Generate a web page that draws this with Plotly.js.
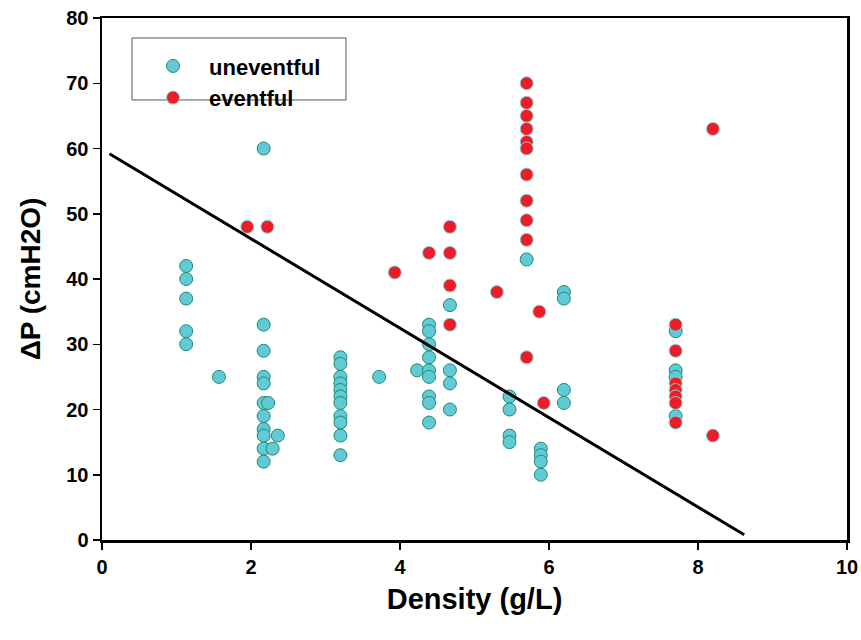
<!DOCTYPE html>
<html>
<head>
<meta charset="utf-8">
<script src="https://cdn.plot.ly/plotly-3.0.1.min.js"></script>
<style>html,body{margin:0;padding:0;background:#fff;}#chart{width:861px;height:640px;}</style>
</head>
<body>
<div id="chart"></div>
<script>
// Uneventful cases
const uneventfulX = [1.13,1.13,1.13,1.13,1.13, 1.57,
  2.17,2.17,2.17,2.17,2.17,2.17,2.17,2.17,2.17,2.17,2.17, 2.23, 2.29, 2.36,
  3.2,3.2,3.2,3.2,3.2,3.2,3.2,3.2,3.2,3.2,3.2, 3.72, 4.23,
  4.39,4.39,4.39,4.39,4.39,4.39,4.39,4.39,4.39,
  4.67,4.67,4.67,4.67, 5.47,5.47,5.47,5.47, 5.7,
  5.89,5.89,5.89,5.89, 6.2,6.2,6.2,6.2, 7.7,7.7,7.7,7.7];
const uneventfulY = [42,40,37,32,30, 25,
  60,33,29,25,24,21,19,17,16,14,12, 21, 14, 16,
  28,27,25,24,23,22,21,19,18,16,13, 25, 26,
  33,32,30,28,26,25,22,21,18,
  36,26,24,20, 22,20,16,15, 43,
  14,13,12,10, 38,37,23,21, 32,26,25,19];
// Eventful cases
const eventfulX = [1.95, 2.22, 3.93, 4.39, 4.67,4.67,4.67,4.67, 5.3,
  5.7,5.7,5.7,5.7,5.7,5.7,5.7,5.7,5.7,5.7,5.7, 5.87, 5.93,
  7.7,7.7,7.7,7.7,7.7,7.7,7.7, 8.2,8.2];
const eventfulY = [48, 48, 41, 44, 48,44,39,33, 38,
  70,67,65,63,61,60,56,52,49,46,28, 35, 21,
  33,29,24,23,22,21,18, 63,16];
// Regression line end points
const fitX = [0.1, 8.62];
const fitY = [59.2, 0.8];
// Tick values / labels
const xTicks = [0, 2, 4, 6, 8, 10];
const xTickLabels = ['0', '2', '4', '6', '8', '10'];
const yTicks = [0, 10, 20, 30, 40, 50, 60, 70, 80];
const yTickLabels = ['0', '10', '20', '30', '40', '50', '60', '70', '80'];

const fam = 'Liberation Sans, Arial, sans-serif';
const bf = (size) => ({family: fam, size: size, color: '#000', weight: 'bold'});
const boldLabels = (arr) => arr.map(t => '<b>' + t + '</b>');

const traces = [
  {x: uneventfulX, y: uneventfulY, type: 'scatter', mode: 'markers', name: 'uneventful',
   legendgroup: 'a',
   marker: {size: 13, color: '#62C9D7', line: {color: '#1E8C6E', width: 1}}},
  {x: eventfulX, y: eventfulY, type: 'scatter', mode: 'markers', name: 'eventful',
   legendgroup: 'b',
   marker: {size: 13, color: '#EE1C25', line: {color: '#86D4E0', width: 1}}},
  {x: fitX, y: fitY, type: 'scatter', mode: 'lines', showlegend: false,
   line: {color: '#000', width: 3}, hoverinfo: 'skip'}
];

const layout = {
  width: 861, height: 640,
  margin: {l: 102, r: 14, t: 18, b: 100},
  paper_bgcolor: '#fff', plot_bgcolor: '#fff',
  font: {family: fam, size: 20, color: '#000'},
  showlegend: true,
  legend: {x: 0.047, y: 0.948, xanchor: 'left', yanchor: 'top',
    bgcolor: 'rgba(0,0,0,0)', borderwidth: 0, tracegroupgap: 0, itemwidth: 62,
    font: bf(22)},
  xaxis: {range: [0, 10], tickmode: 'array', tickvals: xTicks, ticktext: boldLabels(xTickLabels),
    showgrid: false, zeroline: false,
    showline: true, linecolor: '#000', linewidth: 2.5, mirror: true,
    ticks: 'outside', ticklen: 7, tickwidth: 1.5, tickcolor: '#000',
    tickfont: {family: fam, size: 20, color: '#000'},
    title: {text: 'Density (g/L)', standoff: 12, font: bf(29)}},
  yaxis: {range: [0, 80], tickmode: 'array', tickvals: yTicks, ticktext: boldLabels(yTickLabels),
    showgrid: false, zeroline: false,
    showline: true, linecolor: '#000', linewidth: 2.5, mirror: true,
    ticks: 'outside', ticklen: 7, tickwidth: 1.5, tickcolor: '#000',
    tickfont: {family: fam, size: 20, color: '#000'},
    title: {text: 'ΔP (cmH2O)', standoff: 18, font: bf(28)}},
  shapes: [
    {type: 'rect', xref: 'paper', yref: 'paper', x0: 0.0403, x1: 0.3275, y0: 0.843, y1: 0.9617,
     line: {color: '#555', width: 1}, fillcolor: 'rgba(0,0,0,0)', layer: 'below'}
  ]
};

Plotly.newPlot('chart', traces, layout, {displayModeBar: false, staticPlot: true});
</script>
</body>
</html>
